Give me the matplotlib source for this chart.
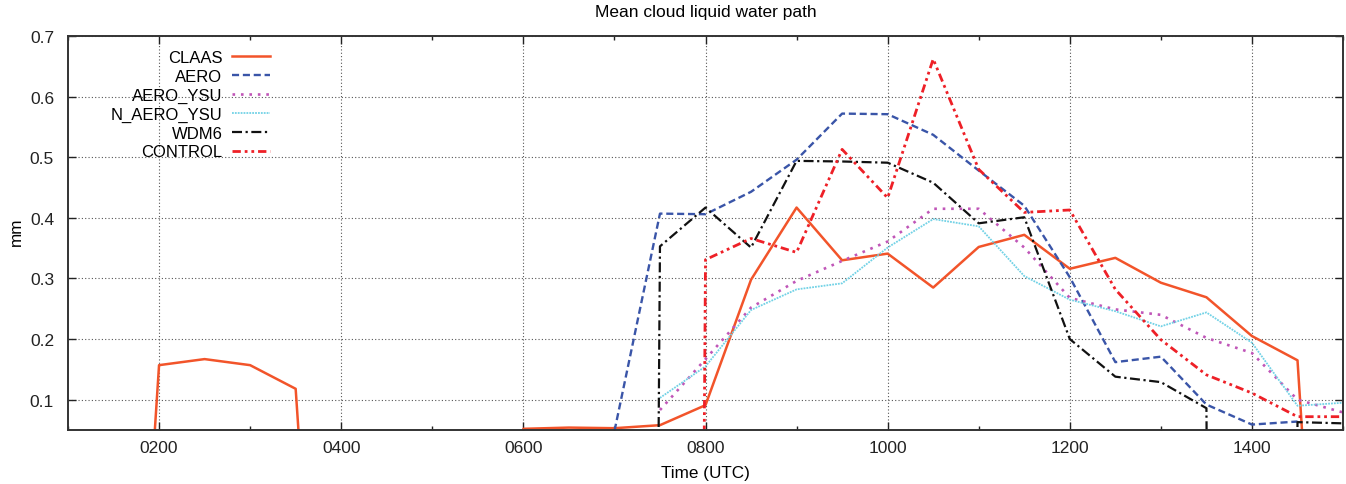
import numpy as np
import matplotlib
matplotlib.use('Agg')
import matplotlib.pyplot as plt
from matplotlib.ticker import FixedLocator, FuncFormatter

plt.rcParams['font.family'] = ['Liberation Sans', 'DejaVu Sans']

# missing samples sit far below the plotted range (observations / model runs)
M_OBS = -1.0
M = -10.0

hours = np.arange(1.0, 15.01, 0.5)

claas = [M_OBS, M_OBS, 0.157, 0.167, 0.157, 0.118, M_OBS, M_OBS, M_OBS, M_OBS,
         0.052, 0.054, 0.053, 0.058, 0.091, 0.298, 0.417, 0.330, 0.341, 0.285,
         0.352, 0.372, 0.316, 0.334, 0.293, 0.269, 0.205, 0.165, M_OBS]
aero = [M] * 12 + [0.048, 0.407, 0.406, 0.443, 0.496, 0.572, 0.571, 0.537,
                   0.478, 0.420, 0.302, 0.162, 0.171, 0.092, 0.059, 0.064, np.nan]
aero_ysu = [np.nan] * 13 + [0.083, 0.167, 0.252, 0.296, 0.329, 0.361, 0.415,
                            0.415, 0.351, 0.268, 0.249, 0.240, 0.202, 0.177, 0.100, 0.079]
n_aero_ysu = [np.nan] * 13 + [0.103, 0.155, 0.248, 0.282, 0.292, 0.351, 0.398,
                              0.386, 0.304, 0.265, 0.246, 0.221, 0.244, 0.194, 0.090, 0.095]
wdm6 = [M] * 13 + [0.353, 0.417, 0.351, 0.494, 0.493, 0.491, 0.458,
                   0.391, 0.401, 0.200, 0.138, 0.129, 0.086, M, 0.063, 0.061]
control = [M] * 14 + [0.331, 0.366, 0.343, 0.513, 0.433, 0.662,
                      0.480, 0.409, 0.413, 0.282, 0.199, 0.141, 0.111, 0.072, 0.072]

names = ['CLAAS', 'AERO', 'AERO_YSU', 'N_AERO_YSU', 'WDM6', 'CONTROL']
series = [claas, aero, aero_ysu, n_aero_ysu, wdm6, control]
colors = ['#f2542a', '#3a55a8', '#c056b8', '#72d2e6', '#111111', '#ee2027']
styles = ['-', (0, (3, 1.6)), (0, (1, 2.2)), (0, (1, 0.6)),
          (0, (4.5, 1.6, 1, 1.6)), (0, (3, 1.4, 1, 1.4, 1, 1.4))]
widths = [1.8, 1.7, 1.9, 1.3, 1.6, 2.0]

fig = plt.figure(figsize=(13.46, 4.85), dpi=100)
ax = fig.add_axes([0.0505, 0.1113, 0.9473, 0.8124])

for name, vals, c, ls, lw in zip(names, series, colors, styles, widths):
    ax.plot(hours, vals, color=c, linestyle=ls, linewidth=lw, label=name)

ax.set_xlim(1, 15)
ax.set_ylim(0.05, 0.7)
ax.xaxis.set_major_locator(FixedLocator(np.arange(2, 15, 2)))
ax.xaxis.set_minor_locator(FixedLocator(np.arange(1, 16, 2)))
ax.xaxis.set_major_formatter(FuncFormatter(lambda v, p: '%04d' % int(round(v * 100))))
ax.yaxis.set_major_locator(FixedLocator(np.arange(0.1, 0.71, 0.1)))
ax.yaxis.set_major_formatter(FuncFormatter(lambda v, p: '%.1f' % v))

ax.tick_params(which='both', direction='in', top=True, right=True,
               labelsize=12.5, colors='#222222', width=1.0)
ax.tick_params(which='major', length=6, pad=7)
ax.tick_params(axis='y', which='major', pad=10)
ax.tick_params(which='minor', length=3)
ax.grid(True, which='major', linestyle=(0, (1, 2)), color='#555555', linewidth=0.8)
for s in ax.spines.values():
    s.set_linewidth(1.4)
    s.set_color('#333333')

ax.set_title('Mean cloud liquid water path', fontsize=12.5, pad=14.5)
ax.set_xlabel('Time (UTC)', fontsize=12.3)
ax.xaxis.set_label_coords(0.5, -0.088)
ax.set_ylabel('mm', fontsize=12.3)
ax.yaxis.set_label_coords(-0.0347, 0.505)

leg = ax.legend(loc='upper right', bbox_to_anchor=(270 / 1346, 1 - 51 / 485),
                bbox_transform=fig.transFigure, frameon=False, markerfirst=False,
                fontsize=12, handlelength=2.3, handletextpad=0.55,
                labelspacing=0.23, borderpad=0, borderaxespad=0)

fig.savefig('out.png', dpi=100)
